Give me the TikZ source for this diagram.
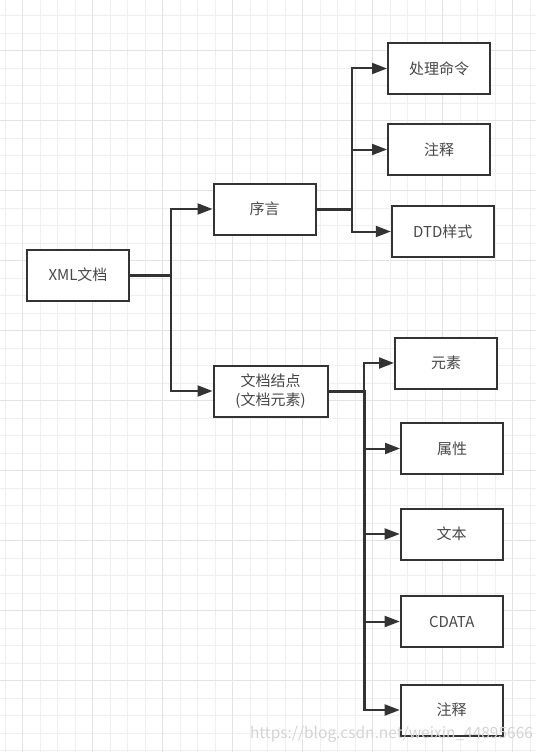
\documentclass[tikz,border=0pt]{standalone}
\usepackage{fontspec}
\setmainfont{Noto Sans CJK SC}
\usepackage{tikz}
\usetikzlibrary{arrows.meta}
\definecolor{ink}{HTML}{333333}
\definecolor{gridminor}{HTML}{EFEFEF}
\definecolor{gridmajor}{HTML}{E3E3E3}
\definecolor{markgray}{HTML}{D4D4D4}

\begin{document}
\begin{tikzpicture}[x=1pt,y=-1pt,>={Triangle[length=15pt,width=11pt]}]
   \useasboundingbox (0,0) rectangle (536,752);
   \fill[white] (0,0) rectangle (536,752);
   % grid paper
   \foreach \k in {0,...,30} {
       \draw[gridminor, line width=1pt] ({5.2+17.5*\k},0) -- ({5.2+17.5*\k},752);
   }
   \foreach \k in {0,...,42} {
       \draw[gridminor, line width=1pt] (0,{15.7+17.5*\k}) -- (536,{15.7+17.5*\k});
   }
   \foreach \k in {0,...,7} {
       \draw[gridmajor, line width=1.3pt] ({22.7+70*\k},0) -- ({22.7+70*\k},752);
   }
   \foreach \k in {0,...,9} {
       \draw[gridmajor, line width=1.3pt] (0,{50.7+70*\k}) -- (536,{50.7+70*\k});
   }
   \tikzstyle{main}=[draw=ink, line width=2pt, fill=white, text=ink!90, minimum width=102pt, minimum height=51pt, align=center, font=\fontsize{15}{18.5}\selectfont]
   \tikzstyle{stem}=[draw=ink, line width=3pt]
   \tikzstyle{branch}=[draw=ink, line width=2pt, ->]
   \node[main] (xml) at (78,275) {XML文档};
   \node[main] (prolog) at (264.5,209) {序言};
   \node[main, minimum width=114pt] (docnode) at (270.5,391) {文档结点\\(文档元素)};
   % prolog children
   \coordinate (jx) at (171,275);
   \coordinate (jp) at (352,209);
   \draw[stem] (xml.east) -- (jx);
   \draw[branch] (jx) |- (prolog.west);
   \draw[branch] (jx) |- (docnode.west);
   \draw[stem] (prolog.east) -- (jp);
   \foreach \n/\x/\y/\word in {pi/439/68.5/{处理命令},comment/439/149.5/{注释},dtd/442.8/231.5/{DTD样式}} {
       \node[main] (\n) at (\x,\y) {\word};
       \draw[branch] (jp) |- (\n.west);
   }
   % document node children
   \coordinate (jd) at (364,391);
   \coordinate (jdend) at (364,710);
   \draw[stem] (docnode.east) -- (jd) -- (jdend);
   \foreach \n/\x/\y/\word in {element/446/363/{元素},attribute/452/448.5/{属性},text/451.7/534/{文本},cdata/451.7/621.5/{CDATA},comment2/451.7/710/{注释}} {
       \node[main] (\n) at (\x,\y) {\word};
       \draw[branch] (jd) |- (\n.west);
   }
   \node[text=markgray, font=\fontsize{15.5}{18}\selectfont] (mark) at (391.5,734) {https://blog.csdn.net/weixin\_44895666};
\end{tikzpicture}
\end{document}
